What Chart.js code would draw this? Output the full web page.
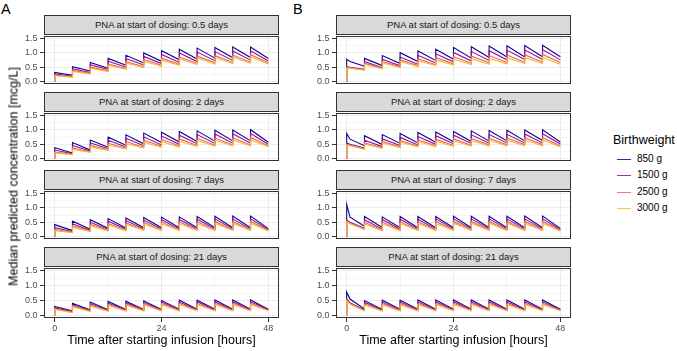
<!DOCTYPE html>
<html>
<head>
<meta charset="utf-8">
<script src="https://cdn.jsdelivr.net/npm/chart.js@4.4.1/dist/chart.umd.min.js"></script>
<style>
  body { margin: 0; background: #fff; font-family: "Liberation Sans", Arial, sans-serif; }
  #wrap { position: relative; width: 677px; height: 351px; overflow: hidden; }
  canvas { position: absolute; }
  .strip { position: absolute; box-sizing: border-box; background: #D9D9D9; border: 1px solid #333;
           font-size: 9.5px; line-height: 18px; color: #1A1A1A; text-align: center; white-space: nowrap; }
  .txt { position: absolute; white-space: nowrap; color: #000; }
</style>
</head>
<body>
<div id="wrap"></div>
<script>
const doseTimes = [0, 4, 8, 12, 16, 20, 24, 28, 32, 36, 40, 44];
const endTime = 48;
const loadDecayTime = 0.75;
const birthweights = ['850 g', '1500 g', '2500 g', '3000 g'];
const pnaDays = ['0.5', '2', '7', '21'];
const lineColors = ['#0D0887', '#960FA0', '#E4685F', '#FBB32F'];
const xLabelled = [0, 24, 48];
const yLabelled = [0, 0.5, 1, 1.5];

// rows: 850, 1500, 2500, 3000 g. peak = right after each dose, trough = just before next dose (last = 48 h)
const peaksA05 = [
  [0.32,0.52,0.67,0.81,0.92,1.00,1.08,1.13,1.17,1.19,1.21,1.21],
  [0.27,0.45,0.59,0.71,0.81,0.88,0.95,1.00,1.03,1.05,1.07,1.08],
  [0.23,0.39,0.51,0.62,0.70,0.77,0.82,0.86,0.89,0.91,0.93,0.94],
  [0.21,0.36,0.47,0.57,0.65,0.71,0.76,0.80,0.83,0.85,0.86,0.87]];
const troughsA05 = [
  [0.22,0.37,0.47,0.57,0.65,0.71,0.76,0.79,0.82,0.83,0.84,0.81],
  [0.19,0.32,0.42,0.51,0.58,0.63,0.67,0.70,0.73,0.74,0.75,0.72],
  [0.17,0.29,0.38,0.46,0.52,0.57,0.61,0.64,0.66,0.67,0.68,0.66],
  [0.16,0.27,0.35,0.43,0.49,0.54,0.57,0.60,0.62,0.63,0.64,0.62]];
const peaksA2 = [
  [0.38,0.56,0.65,0.75,0.83,0.89,0.92,0.95,0.97,0.99,1.00,1.01],
  [0.30,0.46,0.55,0.64,0.71,0.76,0.79,0.82,0.84,0.86,0.87,0.88],
  [0.23,0.37,0.46,0.54,0.60,0.64,0.67,0.69,0.71,0.72,0.73,0.74],
  [0.20,0.33,0.41,0.48,0.53,0.57,0.59,0.61,0.63,0.64,0.65,0.65]];
const troughsA2 = [
  [0.20,0.30,0.40,0.47,0.52,0.56,0.58,0.60,0.61,0.62,0.62,0.57],
  [0.17,0.27,0.35,0.41,0.45,0.48,0.50,0.52,0.53,0.54,0.54,0.50],
  [0.15,0.24,0.31,0.36,0.40,0.43,0.45,0.46,0.47,0.48,0.48,0.45],
  [0.14,0.22,0.29,0.34,0.37,0.40,0.41,0.43,0.44,0.45,0.45,0.42]];
const peaksA7 = [
  [0.42,0.54,0.59,0.63,0.65,0.67,0.68,0.69,0.70,0.71,0.72,0.72],
  [0.32,0.45,0.50,0.54,0.56,0.58,0.59,0.60,0.61,0.62,0.62,0.62],
  [0.25,0.38,0.43,0.46,0.48,0.50,0.51,0.52,0.52,0.53,0.53,0.53],
  [0.21,0.33,0.38,0.41,0.43,0.44,0.45,0.46,0.46,0.47,0.47,0.47]];
const troughsA7 = [
  [0.21,0.26,0.29,0.30,0.31,0.31,0.31,0.31,0.31,0.31,0.31,0.28],
  [0.17,0.22,0.25,0.26,0.27,0.27,0.27,0.27,0.27,0.27,0.27,0.25],
  [0.15,0.20,0.22,0.23,0.24,0.24,0.24,0.24,0.24,0.24,0.24,0.22],
  [0.14,0.18,0.20,0.21,0.22,0.22,0.22,0.22,0.22,0.22,0.22,0.20]];
const peaksA21 = [
  [0.30,0.41,0.45,0.47,0.48,0.49,0.50,0.51,0.51,0.52,0.52,0.52],
  [0.25,0.36,0.40,0.42,0.43,0.44,0.45,0.45,0.46,0.46,0.46,0.46],
  [0.22,0.32,0.35,0.37,0.38,0.39,0.40,0.40,0.40,0.41,0.41,0.41],
  [0.20,0.29,0.32,0.34,0.35,0.36,0.36,0.37,0.37,0.37,0.37,0.37]];
const troughsA21 = [
  [0.15,0.18,0.19,0.20,0.20,0.20,0.21,0.21,0.21,0.21,0.21,0.21],
  [0.13,0.16,0.17,0.18,0.18,0.18,0.19,0.19,0.19,0.19,0.19,0.19],
  [0.11,0.15,0.16,0.16,0.17,0.17,0.17,0.17,0.17,0.17,0.17,0.17],
  [0.10,0.13,0.14,0.15,0.15,0.15,0.15,0.16,0.16,0.16,0.16,0.16]];

// B: loading dose, with one extra value shortly after the first dose
const peaksB05 = [
  [0.78,0.81,0.91,1.01,1.07,1.13,1.19,1.22,1.24,1.25,1.26,1.27],
  [0.52,0.70,0.78,0.86,0.92,0.97,1.02,1.05,1.08,1.10,1.11,1.12],
  [0.50,0.64,0.70,0.76,0.80,0.84,0.87,0.89,0.91,0.93,0.94,0.95],
  [0.48,0.60,0.65,0.70,0.73,0.76,0.78,0.80,0.82,0.83,0.84,0.85]];
const troughsB05 = [
  [0.54,0.56,0.63,0.70,0.74,0.78,0.82,0.84,0.86,0.86,0.87,0.87],
  [0.43,0.48,0.55,0.61,0.65,0.69,0.72,0.74,0.76,0.77,0.77,0.76],
  [0.41,0.47,0.52,0.56,0.59,0.62,0.64,0.66,0.67,0.68,0.68,0.67],
  [0.40,0.45,0.49,0.53,0.56,0.58,0.60,0.61,0.62,0.63,0.63,0.61]];
const loadMidB05 = [0.70, 0.50, 0.48, 0.47];
const peaksB2 = [
  [0.88,0.80,0.84,0.88,0.91,0.93,0.95,0.97,0.98,0.99,1.00,1.01],
  [0.55,0.64,0.69,0.74,0.77,0.80,0.82,0.83,0.84,0.85,0.86,0.87],
  [0.50,0.55,0.60,0.63,0.66,0.68,0.69,0.70,0.71,0.72,0.73,0.73],
  [0.48,0.51,0.55,0.58,0.60,0.61,0.62,0.63,0.64,0.64,0.65,0.65]];
const troughsB2 = [
  [0.45,0.49,0.53,0.55,0.57,0.59,0.60,0.61,0.62,0.62,0.63,0.58],
  [0.37,0.42,0.46,0.48,0.50,0.52,0.53,0.54,0.55,0.55,0.55,0.51],
  [0.34,0.38,0.41,0.43,0.45,0.46,0.47,0.48,0.48,0.49,0.49,0.45],
  [0.33,0.36,0.39,0.41,0.42,0.43,0.44,0.44,0.45,0.45,0.45,0.42]];
const loadMidB2 = [0.68, 0.50, 0.46, 0.45];
const peaksB7 = [
  [1.12,0.70,0.69,0.70,0.70,0.70,0.71,0.71,0.71,0.71,0.72,0.72],
  [0.58,0.59,0.60,0.61,0.61,0.62,0.62,0.62,0.62,0.62,0.62,0.62],
  [0.54,0.50,0.51,0.52,0.52,0.53,0.53,0.53,0.53,0.53,0.53,0.53],
  [0.52,0.44,0.45,0.46,0.46,0.46,0.47,0.47,0.47,0.47,0.47,0.47]];
const troughsB7 = [
  [0.36,0.32,0.31,0.31,0.31,0.31,0.31,0.31,0.31,0.31,0.31,0.29],
  [0.29,0.26,0.26,0.27,0.27,0.27,0.27,0.27,0.27,0.27,0.27,0.25],
  [0.27,0.23,0.23,0.24,0.24,0.24,0.24,0.24,0.24,0.24,0.24,0.22],
  [0.25,0.21,0.21,0.22,0.22,0.22,0.22,0.22,0.22,0.22,0.22,0.20]];
const loadMidB7 = [0.68, 0.50, 0.47, 0.45];
const peaksB21 = [
  [0.79,0.50,0.51,0.51,0.52,0.52,0.52,0.52,0.52,0.52,0.52,0.52],
  [0.56,0.44,0.45,0.45,0.46,0.46,0.46,0.46,0.46,0.46,0.46,0.46],
  [0.52,0.39,0.40,0.40,0.41,0.41,0.41,0.41,0.41,0.41,0.41,0.41],
  [0.50,0.35,0.36,0.36,0.37,0.37,0.37,0.37,0.37,0.37,0.37,0.37]];
const troughsB21 = [
  [0.22,0.20,0.21,0.21,0.21,0.21,0.21,0.21,0.21,0.21,0.21,0.21],
  [0.18,0.18,0.18,0.19,0.19,0.19,0.19,0.19,0.19,0.19,0.19,0.19],
  [0.16,0.16,0.17,0.17,0.17,0.17,0.17,0.17,0.17,0.17,0.17,0.17],
  [0.15,0.15,0.15,0.15,0.16,0.16,0.16,0.16,0.16,0.16,0.16,0.16]];
const loadMidB21 = [0.55, 0.43, 0.40, 0.38];

const panels = [
  { col: 0, row: 0, peaks: peaksA05, troughs: troughsA05, mids: null },
  { col: 0, row: 1, peaks: peaksA2, troughs: troughsA2, mids: null },
  { col: 0, row: 2, peaks: peaksA7, troughs: troughsA7, mids: null },
  { col: 0, row: 3, peaks: peaksA21, troughs: troughsA21, mids: null },
  { col: 1, row: 0, peaks: peaksB05, troughs: troughsB05, mids: loadMidB05 },
  { col: 1, row: 1, peaks: peaksB2, troughs: troughsB2, mids: loadMidB2 },
  { col: 1, row: 2, peaks: peaksB7, troughs: troughsB7, mids: loadMidB7 },
  { col: 1, row: 3, peaks: peaksB21, troughs: troughsB21, mids: loadMidB21 }
];

const wrap = document.getElementById('wrap');
const plotLefts = [44, 336];
const plotTops = [34, 111, 189, 266];
const plotW = 235, plotH = 52, yAxisW = 30;
const tickFont = { family: 'Liberation Sans', size: 9 };

function buildSeries(peaks, troughs, mid) {
  const pts = [{ x: 0, y: 0 }];
  doseTimes.forEach((t, i) => {
    if (i > 0) pts.push({ x: t, y: troughs[i - 1] });
    pts.push({ x: t, y: peaks[i] });
    if (i === 0 && mid != null) pts.push({ x: t + loadDecayTime, y: mid });
  });
  pts.push({ x: endTime, y: troughs[troughs.length - 1] });
  return pts;
}

const isMajor = (v, step) => Math.abs(v / step - Math.round(v / step)) < 1e-6;

const panelBorder = {
  id: 'panelBorder',
  afterDatasetsDraw(chart) {
    const { ctx, chartArea: a } = chart;
    ctx.save();
    ctx.strokeStyle = '#333333';
    ctx.lineWidth = 1;
    ctx.strokeRect(Math.round(a.left) + 0.5, Math.round(a.top) + 0.5,
                   Math.round(a.right - a.left) - 1, Math.round(a.bottom - a.top) - 1);
    ctx.restore();
  }
};

function addText(text, left, top, size, extra) {
  const d = document.createElement('div');
  d.className = 'txt';
  d.textContent = text;
  d.style.left = left + 'px';
  d.style.top = top + 'px';
  d.style.fontSize = size + 'px';
  if (extra) Object.assign(d.style, extra);
  wrap.appendChild(d);
  return d;
}

panels.forEach(p => {
  const left = plotLefts[p.col], top = plotTops[p.row];
  const bottom = p.row === 3;
  const padT = 6, padB = bottom ? 0 : 6, axisH = bottom ? 16 : 0;

  const strip = document.createElement('div');
  strip.className = 'strip';
  strip.style.left = left + 'px';
  strip.style.top = (top - 19) + 'px';
  strip.style.width = plotW + 'px';
  strip.style.height = '20px';
  strip.textContent = 'PNA at start of dosing: ' + pnaDays[p.row] + ' days';
  wrap.appendChild(strip);

  const canvas = document.createElement('canvas');
  const w = yAxisW + plotW + 3, h = padT + plotH + axisH + padB;
  canvas.width = w; canvas.height = h;
  canvas.style.width = w + 'px'; canvas.style.height = h + 'px';
  canvas.style.left = (left - yAxisW) + 'px';
  canvas.style.top = (top - padT) + 'px';
  wrap.appendChild(canvas);

  const datasets = birthweights.map((bw, i) => ({
    label: bw,
    data: buildSeries(p.peaks[i], p.troughs[i], p.mids ? p.mids[i] : null),
    borderColor: lineColors[i],
    borderWidth: 1.1,
    pointRadius: 0,
    tension: 0,
    fill: false,
    order: 3 - i
  }));

  new Chart(canvas, {
    type: 'line',
    data: { datasets },
    options: {
      responsive: false,
      animation: false,
      layout: { padding: { top: padT, bottom: padB, left: 0, right: 3 } },
      plugins: { legend: { display: false }, tooltip: { enabled: false } },
      scales: {
        x: {
          type: 'linear', min: -2.4, max: 50.4,
          afterFit: s => { s.height = axisH; },
          border: { display: false },
          grid: {
            color: '#EBEBEB',
            lineWidth: c => isMajor(c.tick.value, 24) ? 1 : 0.5,
            drawTicks: bottom,
            tickLength: 4,
            tickColor: c => isMajor(c.tick.value, 24) ? '#333333' : 'rgba(0,0,0,0)',
            tickWidth: 1
          },
          ticks: {
            display: bottom, stepSize: 12, includeBounds: false, autoSkip: false,
            maxRotation: 0, padding: 1, font: tickFont, color: '#4D4D4D',
            callback: v => xLabelled.includes(v) ? String(v) : ''
          }
        },
        y: {
          min: -0.085, max: 1.595,
          afterFit: s => { s.width = yAxisW; },
          border: { display: false },
          grid: {
            color: '#EBEBEB',
            lineWidth: c => isMajor(c.tick.value, 0.5) ? 1 : 0.5,
            tickLength: 4,
            tickColor: c => isMajor(c.tick.value, 0.5) ? '#333333' : 'rgba(0,0,0,0)',
            tickWidth: 1
          },
          ticks: {
            stepSize: 0.25, includeBounds: false, autoSkip: false, padding: 2.5,
            font: tickFont, color: '#4D4D4D',
            callback: v => yLabelled.some(l => Math.abs(l - v) < 1e-6) ? v.toFixed(1) : ''
          }
        }
      }
    },
    plugins: [panelBorder]
  });
});

// panel tags
addText('A', 1, 1, 14.5);
addText('B', 293, 1, 14.5);

// axis titles
addText('Time after starting infusion [hours]', plotLefts[0], 333, 12.5, { width: plotW + 'px', textAlign: 'center', lineHeight: '15px' });
addText('Time after starting infusion [hours]', plotLefts[1], 333, 12.5, { width: plotW + 'px', textAlign: 'center', lineHeight: '15px' });
addText('Median predicted concentration [mcg/L]', 14 - 160, 176 - 7.5, 12.5,
  { width: '320px', textAlign: 'center', transform: 'rotate(-90deg)', transformOrigin: '50% 50%', lineHeight: '15px' });

// legend
addText('Birthweight', 613, 133, 12.5, { lineHeight: '15px' });
birthweights.forEach((bw, i) => {
  const y = [159, 175, 192, 208][i];
  const key = document.createElement('div');
  key.style.position = 'absolute';
  key.style.left = '617px';
  key.style.top = y + 'px';
  key.style.width = '14px';
  key.style.height = '1px';
  key.style.background = lineColors[i];
  key.style.opacity = '0.85';
  wrap.appendChild(key);
  addText(bw, 637, y - 6, 10, { color: '#000', lineHeight: '12px' });
});
</script>
</body>
</html>
